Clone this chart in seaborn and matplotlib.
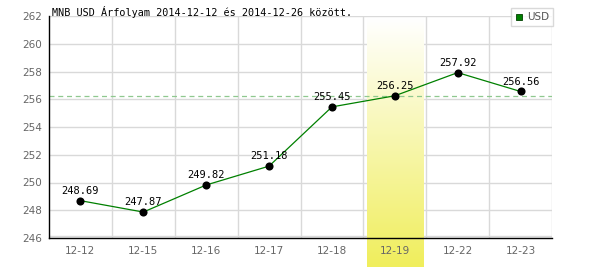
import numpy as np
import pandas as pd
import matplotlib
matplotlib.use("Agg")
import matplotlib.pyplot as plt
import seaborn as sns
from matplotlib.colors import LinearSegmentedColormap
from matplotlib.lines import Line2D

dates = ["12-12", "12-15", "12-16", "12-17", "12-18", "12-19", "12-22", "12-23"]
rates = [248.69, 247.87, 249.82, 251.18, 255.45, 256.25, 257.92, 256.56]
y_ticks = [246, 248, 250, 252, 254, 256, 258, 260, 262]
highlight = "12-19"
ref_level = 256.25
title = "MNB USD Árfolyam 2014-12-12 és 2014-12-26 között."
series_name = "USD"

df = pd.DataFrame({"date": dates, "rate": rates})

sns.set_theme(style="white")
plt.rcParams["font.family"] = ["DejaVu Sans"]

fig = plt.figure(figsize=(6, 2.7), dpi=100)
ax = fig.add_axes([49/600, 1 - 238/270, (552-49)/600, (238-16)/270])

n = len(dates)
ax.set_xlim(-0.5, n - 0.5)
ax.set_ylim(y_ticks[0], y_ticks[-1])

# grid
for yv in y_ticks:
    ax.axhline(yv, color="#d9d9d9", lw=1, zorder=0)
for i in range(n):
    ax.axvline(i + 0.5, color="#d9d9d9", lw=1, zorder=0)
ax.axhline(y_ticks[0] + 0.15, color="#d9d9d9", lw=1, zorder=0)

# highlight gradient band
hi = dates.index(highlight)
cmap = LinearSegmentedColormap.from_list("yl", ["#ffffff", "#f0ee5c"])
grad = np.linspace(0, 1, 256).reshape(-1, 1)
px = (y_ticks[-1] - y_ticks[0]) / 222.0
ytop = y_ticks[-1] - 3 * px
ybot = y_ticks[0] - 29 * px
ax.imshow(grad, cmap=cmap, aspect="auto", extent=[hi - 0.45, hi + 0.45, ybot, ytop],
          origin="upper", zorder=0.5, clip_on=False)

ax.axhline(ref_level, color="#8fc88f", lw=0.9, ls=(0, (4, 3)), zorder=1)

sns.lineplot(data=df, x="date", y="rate", ax=ax, color="#008000", lw=0.9, sort=False, zorder=3)
sns.scatterplot(data=df, x="date", y="rate", ax=ax, color="black", s=34, edgecolor="black",
                zorder=4, linewidth=0)

for i, v in enumerate(rates):
    ax.annotate(f"{v:.2f}", (i, v), xytext=(0, 3.5), textcoords="offset points",
                ha="center", va="bottom", fontsize=7.5, family="DejaVu Sans Mono",
                color="black", zorder=5)

ax.set_yticks(y_ticks)
ax.set_xticks(range(n))
ax.set_xticklabels(dates)
ax.tick_params(axis="both", length=0, labelsize=7.5, labelcolor="#666666", pad=6)
ax.tick_params(axis="y", pad=5)
ax.set_xlabel("")
ax.set_ylabel("")
for s in ["top", "right"]:
    ax.spines[s].set_visible(False)
for s in ["left", "bottom"]:
    ax.spines[s].set_color("black")
    ax.spines[s].set_linewidth(1)

fig.text(52/600, 1 - 12/270, title, fontsize=7.3, family="DejaVu Sans Mono",
         ha="left", va="center", color="black")

handle = Line2D([], [], marker="s", ls="none", markersize=5, markerfacecolor="#008000",
                markeredgecolor="#004000", markeredgewidth=0.6)
leg = fig.legend([handle], [series_name], loc="upper right",
                 bbox_to_anchor=(553/600, 1 - 8/270), fontsize=7.5, frameon=True,
                 fancybox=False, handlelength=0.8, handletextpad=0.3,
                 borderpad=0.4, borderaxespad=0)
leg.get_frame().set_edgecolor("#d0d0d0")
leg.get_frame().set_linewidth(1)
for t in leg.get_texts():
    t.set_color("#555555")

fig.savefig("out.png", dpi=100, facecolor="white")
